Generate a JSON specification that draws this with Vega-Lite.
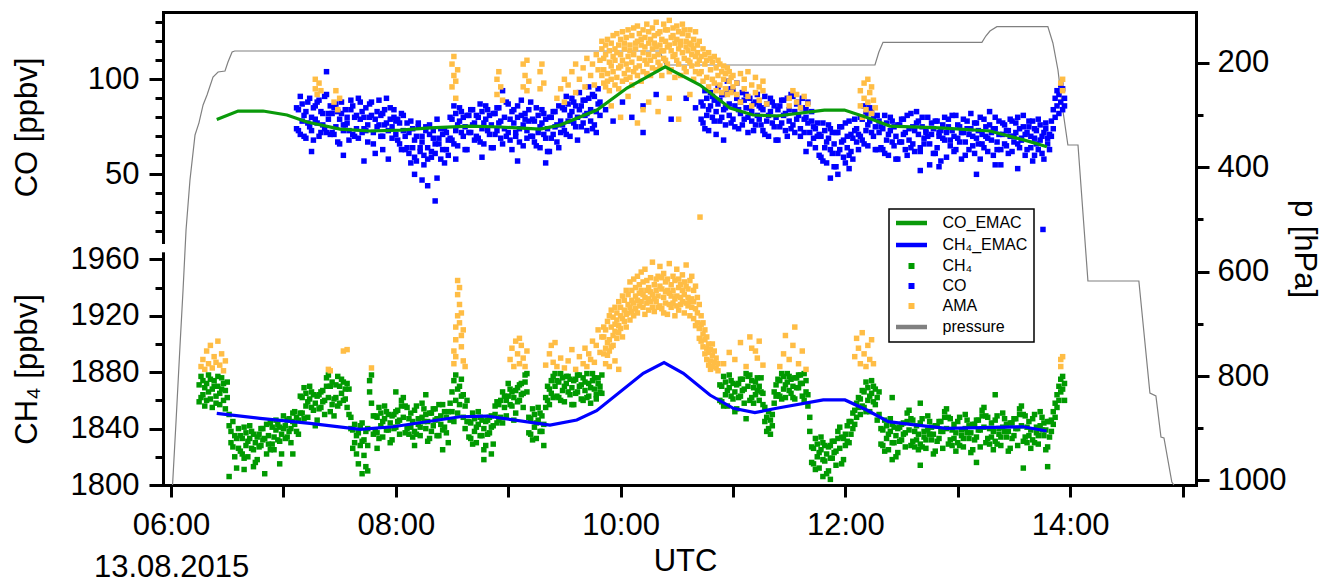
{
"$schema": "https://vega.github.io/schema/vega-lite/v6.json",
"width": 1033, "height": 473,
"autosize": {"type": "none"},
"padding": {"left": 163, "top": 12, "right": 134, "bottom": 98},
"background": "white",
"config": {
  "view": {"stroke": null},
  "font": "Liberation Sans",
  "axis": {"labelFont": "Liberation Sans", "titleFont": "Liberation Sans", "labelFontSize": 31, "titleFontSize": 31, "titleFontWeight": "normal", "labelColor": "black", "titleColor": "black", "domainColor": "black", "tickColor": "black", "domainWidth": 3, "tickWidth": 3, "grid": false, "labelOverlap": false, "labelFlush": false, "domainCap": "square"}
},
"datasets": {
"pressure": [{"m":360.8,"p":1008.8},{"m":362.7,"p":884.3},{"m":364.8,"p":740.6},{"m":366.4,"p":635.2},{"m":368.0,"p":520.3},{"m":370.1,"p":424.5},{"m":372.8,"p":338.3},{"m":374.9,"p":315},{"m":377.1,"p":280.8},{"m":379.2,"p":261.7},{"m":382.4,"p":227.2},{"m":385.1,"p":217.6},{"m":388.8,"p":215.7},{"m":390.4,"p":198.5},{"m":392.6,"p":179.3},{"m":394,"p":177.4},{"m":621.0,"p":177.4},{"m":623.7,"p":204.2},{"m":735.8,"p":204.2},{"m":737.9,"p":179.3},{"m":740.1,"p":160.7},{"m":792.9,"p":160.7},{"m":795.0,"p":148.7},{"m":797.2,"p":139.1},{"m":800.9,"p":130.8},{"m":828.1,"p":130.8},{"m":830.8,"p":162.1},{"m":833.5,"p":213.8},{"m":836.1,"p":290.4},{"m":838.8,"p":357.5},{"m":844.2,"p":357.5},{"m":849.5,"p":618.0},{"m":876.7,"p":618.0},{"m":882.6,"p":832.6},{"m":885.8,"p":838.3},{"m":888.5,"p":916.9},{"m":890.1,"p":918.8},{"m":894.3,"p":1003.1},{"m":895.4,"p":1008.8}],
"coemac": [{"m":384.4,"v":78.9},{"m":395.8,"v":83.3},{"m":409.1,"v":83.3},{"m":421.9,"v":81.2},{"m":432.6,"v":77.5},{"m":450.2,"v":73.8},{"m":466.2,"v":72.8},{"m":482.2,"v":73.3},{"m":498.3,"v":74.4},{"m":519.6,"v":75.4},{"m":535.6,"v":74.9},{"m":557.0,"v":73.8},{"m":567.7,"v":75.9},{"m":587.4,"v":83.8},{"m":603.4,"v":95.4},{"m":623.8,"v":106.6},{"m":642.4,"v":97.0},{"m":658.4,"v":84.9},{"m":670.7,"v":81.2},{"m":683.5,"v":80.7},{"m":708.8,"v":83.8},{"m":719.5,"v":83.8},{"m":732.3,"v":79.6},{"m":743.8,"v":75.4},{"m":770.5,"v":74.4},{"m":797.2,"v":72.8},{"m":818.5,"v":67.2},{"m":827.6,"v":64.5}],
"ch4emac": [{"m":384.4,"v":1850.8},{"m":407.5,"v":1847.3},{"m":434.2,"v":1843.7},{"m":460.9,"v":1839.5},{"m":478.5,"v":1841.3},{"m":514.3,"v":1848.4},{"m":528.5,"v":1848.9},{"m":562.3,"v":1842.5},{"m":576.6,"v":1846.1},{"m":587.2,"v":1852.7},{"m":612.1,"v":1879.2},{"m":623.2,"v":1886.8},{"m":633.5,"v":1879.2},{"m":647.7,"v":1863.8},{"m":660.2,"v":1854.4},{"m":671.7,"v":1851.3},{"m":683.3,"v":1854.4},{"m":708.2,"v":1860.3},{"m":719.8,"v":1860.3},{"m":731.4,"v":1853.2},{"m":742.9,"v":1844.9},{"m":758.1,"v":1842.5},{"m":774.1,"v":1840.2},{"m":798.9,"v":1840.9},{"m":815.0,"v":1841.3},{"m":827.5,"v":1838.3}],
"co": [
{"m":427,"v":85},{"m":427,"v":74},{"m":428,"v":73},{"m":428,"v":84},{"m":429,"v":91},{"m":429,"v":71},{"m":430,"v":78},{"m":430,"v":87},{"m":431,"v":70},{"m":431,"v":81},{"m":432,"v":83},{"m":432,"v":69},{"m":433,"v":88},{"m":433,"v":77},{"m":434,"v":75},{"m":434,"v":90},{"m":435,"v":80},{"m":435,"v":73},{"m":435,"v":62},{"m":436,"v":68},{"m":436,"v":85},{"m":437,"v":86},{"m":437,"v":79},{"m":438,"v":77},{"m":438,"v":88},{"m":439,"v":89},{"m":439,"v":70},{"m":440,"v":72},{"m":440,"v":83},{"m":441,"v":82},{"m":441,"v":76},{"m":442,"v":74},{"m":442,"v":91},{"m":443,"v":92},{"m":443,"v":72},{"m":443,"v":104},{"m":444,"v":79},{"m":444,"v":82},{"m":445,"v":71},{"m":445,"v":86},
{"m":446,"v":82},{"m":446,"v":72},{"m":447,"v":85},{"m":447,"v":71},{"m":448,"v":75},{"m":448,"v":87},{"m":449,"v":67},{"m":449,"v":83},{"m":450,"v":79},{"m":450,"v":66},{"m":451,"v":88},{"m":451,"v":82},{"m":452,"v":73},{"m":452,"v":76},{"m":452,"v":60},{"m":453,"v":76},{"m":453,"v":84},{"m":454,"v":80},{"m":454,"v":77},{"m":455,"v":68},{"m":455,"v":73},{"m":456,"v":84},{"m":456,"v":89},{"m":457,"v":86},{"m":457,"v":71},{"m":458,"v":70},{"m":458,"v":80},{"m":459,"v":81},{"m":459,"v":74},{"m":460,"v":90},{"m":460,"v":69},{"m":461,"v":79},{"m":461,"v":88},{"m":462,"v":72},{"m":462,"v":83},{"m":463,"v":74},{"m":463,"v":80},{"m":463,"v":57},{"m":464,"v":85},{"m":464,"v":73},{"m":465,"v":67},{"m":465,"v":76},{"m":466,"v":80},{"m":466,"v":87},{"m":467,"v":88},{"m":467,"v":81},{"m":468,"v":66},{"m":468,"v":72},{"m":469,"v":79},{"m":469,"v":61},{"m":470,"v":83},{"m":470,"v":75},{"m":471,"v":76},{"m":471,"v":89},{"m":472,"v":81},{"m":472,"v":70},{"m":473,"v":70},{"m":473,"v":82},{"m":473,"v":63},{"m":474,"v":84},{"m":474,"v":76},{"m":475,"v":77},{"m":475,"v":90},{"m":476,"v":73},{"m":476,"v":58},{"m":477,"v":85},{"m":477,"v":79},{"m":478,"v":75},{"m":478,"v":69},{"m":479,"v":80},{"m":479,"v":84},{"m":480,"v":71},{"m":480,"v":78},
{"m":481,"v":79},{"m":481,"v":68},{"m":482,"v":66},{"m":482,"v":77},{"m":483,"v":82},{"m":483,"v":63},{"m":484,"v":73},{"m":484,"v":81},{"m":485,"v":63},{"m":485,"v":70},{"m":486,"v":77},{"m":486,"v":64},
{"m":487,"v":72},{"m":487,"v":61},{"m":488,"v":78},{"m":488,"v":56},{"m":489,"v":64},{"m":489,"v":74},{"m":490,"v":59},{"m":490,"v":68},{"m":490,"v":50},{"m":491,"v":70},{"m":491,"v":57},{"m":492,"v":75},{"m":492,"v":77},{"m":493,"v":62},{"m":493,"v":64},{"m":494,"v":67},{"m":494,"v":70},{"m":494,"v":47},{"m":495,"v":55},{"m":495,"v":60},{"m":496,"v":73},{"m":496,"v":75},{"m":497,"v":64},{"m":497,"v":58},{"m":497,"v":44},{"m":498,"v":76},{"m":498,"v":71},{"m":499,"v":59},{"m":499,"v":62},{"m":500,"v":69},{"m":500,"v":73},{"m":501,"v":61},{"m":501,"v":66},{"m":501,"v":36},{"m":502,"v":79},{"m":502,"v":48},{"m":503,"v":66},{"m":503,"v":69},{"m":504,"v":58},{"m":504,"v":74},{"m":505,"v":71},{"m":505,"v":63},{"m":506,"v":74},{"m":506,"v":56},{"m":507,"v":63},{"m":507,"v":72},{"m":508,"v":68},{"m":508,"v":60},
{"m":509,"v":80},{"m":509,"v":69},{"m":510,"v":68},{"m":510,"v":79},{"m":511,"v":86},{"m":511,"v":66},{"m":512,"v":73},{"m":512,"v":82},{"m":512,"v":58},{"m":513,"v":65},{"m":513,"v":76},{"m":514,"v":78},{"m":514,"v":85},{"m":515,"v":83},{"m":515,"v":72},{"m":516,"v":70},{"m":516,"v":80},{"m":517,"v":75},{"m":517,"v":63},{"m":518,"v":63},{"m":518,"v":81},{"m":519,"v":81},{"m":519,"v":72},{"m":520,"v":72},{"m":520,"v":84},{"m":521,"v":84},{"m":521,"v":76},{"m":522,"v":77},{"m":522,"v":68},
{"m":523,"v":81},{"m":523,"v":70},{"m":524,"v":69},{"m":524,"v":80},{"m":525,"v":87},{"m":525,"v":67},{"m":526,"v":74},{"m":526,"v":83},{"m":526,"v":59},{"m":527,"v":66},{"m":527,"v":77},{"m":528,"v":79},{"m":528,"v":86},{"m":529,"v":84},{"m":529,"v":73},{"m":530,"v":71},{"m":530,"v":81},{"m":531,"v":76},{"m":531,"v":64},{"m":532,"v":64},{"m":532,"v":82},{"m":533,"v":82},{"m":533,"v":71},{"m":534,"v":73},{"m":534,"v":85},{"m":535,"v":85},{"m":535,"v":77},{"m":536,"v":78},{"m":536,"v":69},{"m":537,"v":66},{"m":537,"v":94},{"m":538,"v":80},{"m":538,"v":74},{"m":539,"v":88},{"m":539,"v":70},{"m":540,"v":72},{"m":540,"v":87},{"m":541,"v":68},{"m":541,"v":79},{"m":542,"v":83},{"m":542,"v":63},{"m":543,"v":77},{"m":543,"v":84},{"m":544,"v":70},{"m":544,"v":72},{"m":545,"v":86},{"m":545,"v":80},{"m":545,"v":57},{"m":546,"v":74},{"m":546,"v":67},{"m":547,"v":81},{"m":547,"v":89},{"m":548,"v":65},{"m":548,"v":76},{"m":549,"v":79},{"m":549,"v":82},{"m":550,"v":73},{"m":550,"v":69},{"m":551,"v":84},{"m":551,"v":78},{"m":552,"v":70},{"m":552,"v":88},
{"m":553,"v":79},{"m":553,"v":70},{"m":554,"v":67},{"m":554,"v":78},{"m":555,"v":85},{"m":555,"v":65},{"m":556,"v":72},{"m":556,"v":81},{"m":557,"v":64},{"m":557,"v":75},{"m":558,"v":77},{"m":558,"v":84},{"m":559,"v":82},{"m":559,"v":71},{"m":560,"v":69},{"m":560,"v":79},{"m":560,"v":56},{"m":561,"v":74},{"m":561,"v":62},{"m":562,"v":62},{"m":562,"v":80},{"m":563,"v":80},{"m":563,"v":69},{"m":564,"v":71},{"m":564,"v":83},{"m":565,"v":83},{"m":565,"v":75},{"m":566,"v":76},{"m":566,"v":67},{"m":567,"v":64},{"m":567,"v":86},{"m":568,"v":78},{"m":568,"v":72},
{"m":569,"v":85},{"m":569,"v":76},{"m":570,"v":73},{"m":570,"v":84},{"m":571,"v":91},{"m":571,"v":71},{"m":572,"v":78},{"m":572,"v":87},{"m":573,"v":70},{"m":573,"v":81},{"m":574,"v":83},{"m":574,"v":90},{"m":575,"v":88},{"m":575,"v":77},{"m":576,"v":75},{"m":576,"v":86},{"m":577,"v":80},{"m":577,"v":68},{"m":578,"v":93},{"m":578,"v":84},{"m":579,"v":86},{"m":579,"v":75},{"m":580,"v":77},{"m":580,"v":89},{"m":581,"v":89},{"m":581,"v":81},{"m":582,"v":82},{"m":582,"v":73},{"m":583,"v":96},{"m":583,"v":90},{"m":584,"v":84},{"m":584,"v":78},{"m":585,"v":92},{"m":585,"v":74},{"m":586,"v":76},{"m":586,"v":91},{"m":587,"v":72},{"m":587,"v":83},{"m":588,"v":87},{"m":588,"v":95},{"m":589,"v":81},{"m":589,"v":88},
{"m":592,"v":84},{"m":596,"v":78},{"m":601,"v":88},{"m":606,"v":80},{"m":612,"v":86},{"m":612,"v":72},{"m":619,"v":92},{"m":627,"v":79},{"m":635,"v":90},{"m":640,"v":85},
{"m":643,"v":88},{"m":643,"v":79},{"m":644,"v":77},{"m":644,"v":86},{"m":645,"v":94},{"m":645,"v":74},{"m":646,"v":81},{"m":646,"v":90},{"m":647,"v":73},{"m":647,"v":84},{"m":648,"v":86},{"m":648,"v":93},{"m":649,"v":91},{"m":649,"v":80},{"m":650,"v":78},{"m":650,"v":89},{"m":651,"v":83},{"m":651,"v":71},{"m":652,"v":96},{"m":652,"v":87},{"m":653,"v":89},{"m":653,"v":78},{"m":654,"v":80},{"m":654,"v":92},{"m":655,"v":92},{"m":655,"v":84},{"m":655,"v":68},{"m":656,"v":85},{"m":656,"v":76},{"m":657,"v":99},{"m":657,"v":93},{"m":658,"v":87},{"m":658,"v":81},{"m":659,"v":95},{"m":659,"v":77},{"m":660,"v":79},{"m":660,"v":94},{"m":661,"v":75},{"m":661,"v":86},{"m":662,"v":90},{"m":662,"v":98},{"m":663,"v":84},{"m":663,"v":74},{"m":664,"v":82},{"m":664,"v":88},{"m":665,"v":76},{"m":665,"v":93},{"m":666,"v":89},{"m":666,"v":79},{"m":667,"v":92},{"m":667,"v":85},{"m":668,"v":80},{"m":668,"v":72},{"m":669,"v":85},{"m":669,"v":90},{"m":670,"v":78},{"m":670,"v":83},{"m":671,"v":73},{"m":671,"v":87},{"m":672,"v":88},{"m":672,"v":76},{"m":673,"v":81},{"m":673,"v":92},{"m":674,"v":86},{"m":674,"v":79},
{"m":675,"v":85},{"m":675,"v":76},{"m":676,"v":73},{"m":676,"v":84},{"m":677,"v":91},{"m":677,"v":71},{"m":678,"v":78},{"m":678,"v":87},{"m":679,"v":70},{"m":679,"v":81},{"m":680,"v":83},{"m":680,"v":90},{"m":681,"v":88},{"m":681,"v":77},{"m":682,"v":75},{"m":682,"v":86},{"m":683,"v":80},{"m":683,"v":68},{"m":684,"v":68},{"m":684,"v":84},{"m":685,"v":86},{"m":685,"v":75},{"m":686,"v":77},{"m":686,"v":89},{"m":687,"v":89},{"m":687,"v":81},{"m":688,"v":82},{"m":688,"v":73},{"m":689,"v":70},{"m":689,"v":90},{"m":690,"v":84},{"m":690,"v":78},{"m":691,"v":92},{"m":691,"v":74},{"m":692,"v":76},{"m":692,"v":91},{"m":693,"v":72},{"m":693,"v":83},{"m":694,"v":87},{"m":694,"v":79},{"m":695,"v":81},{"m":695,"v":88},{"m":696,"v":74},{"m":696,"v":70},{"m":697,"v":90},{"m":697,"v":85},{"m":698,"v":79},{"m":698,"v":72},{"m":699,"v":84},{"m":699,"v":80},{"m":699,"v":62},{"m":700,"v":77},{"m":700,"v":88},{"m":701,"v":72},{"m":701,"v":66},{"m":702,"v":78},{"m":702,"v":83},{"m":703,"v":69},{"m":703,"v":75},{"m":704,"v":74},{"m":704,"v":64},{"m":705,"v":70},{"m":705,"v":77},
{"m":706,"v":71},{"m":706,"v":60},{"m":707,"v":59},{"m":707,"v":70},{"m":708,"v":77},{"m":708,"v":57},{"m":709,"v":64},{"m":709,"v":73},{"m":710,"v":56},{"m":710,"v":67},{"m":711,"v":69},{"m":711,"v":76},{"m":712,"v":74},{"m":712,"v":63},{"m":712,"v":48},{"m":713,"v":61},{"m":713,"v":72},{"m":714,"v":66},{"m":714,"v":54},{"m":715,"v":54},{"m":715,"v":72},{"m":716,"v":72},{"m":716,"v":61},{"m":716,"v":50},{"m":717,"v":63},{"m":717,"v":75},{"m":718,"v":75},{"m":718,"v":67},{"m":719,"v":68},{"m":719,"v":59},{"m":720,"v":56},{"m":720,"v":77},{"m":721,"v":70},{"m":721,"v":64},{"m":722,"v":78},{"m":722,"v":60},{"m":722,"v":53},{"m":723,"v":62},{"m":723,"v":71},{"m":724,"v":58},{"m":724,"v":69},{"m":725,"v":73},{"m":725,"v":79},{"m":726,"v":67},{"m":726,"v":74},{"m":727,"v":71},{"m":727,"v":63},
{"m":728,"v":80},{"m":728,"v":70},{"m":729,"v":68},{"m":729,"v":79},{"m":730,"v":86},{"m":730,"v":66},{"m":731,"v":73},{"m":731,"v":82},{"m":732,"v":65},{"m":732,"v":76},{"m":733,"v":78},{"m":733,"v":85},{"m":734,"v":83},{"m":734,"v":72},{"m":735,"v":70},{"m":735,"v":80},{"m":736,"v":75},{"m":736,"v":63},{"m":737,"v":63},{"m":737,"v":81},{"m":738,"v":72},{"m":738,"v":78},
{"m":739,"v":75},{"m":739,"v":64},{"m":740,"v":63},{"m":740,"v":74},{"m":741,"v":81},{"m":741,"v":61},{"m":742,"v":68},{"m":742,"v":77},{"m":743,"v":60},{"m":743,"v":71},{"m":744,"v":73},{"m":744,"v":80},{"m":745,"v":78},{"m":745,"v":67},{"m":746,"v":65},{"m":746,"v":75},{"m":747,"v":70},{"m":747,"v":58},{"m":748,"v":58},{"m":748,"v":76},{"m":749,"v":76},{"m":749,"v":67},{"m":750,"v":67},{"m":750,"v":79},{"m":751,"v":79},{"m":751,"v":71},{"m":752,"v":72},{"m":752,"v":63},{"m":753,"v":60},{"m":753,"v":81},{"m":754,"v":74},{"m":754,"v":68},{"m":755,"v":82},{"m":755,"v":64},{"m":756,"v":66},{"m":756,"v":75},{"m":757,"v":62},{"m":757,"v":73},{"m":758,"v":77},{"m":758,"v":83},{"m":759,"v":71},{"m":759,"v":78},{"m":760,"v":64},{"m":760,"v":62},{"m":760,"v":52},{"m":761,"v":75},{"m":761,"v":80},{"m":762,"v":69},{"m":762,"v":66},{"m":763,"v":73},{"m":763,"v":72},{"m":764,"v":80},{"m":764,"v":70},{"m":765,"v":66},{"m":765,"v":55},{"m":766,"v":71},{"m":766,"v":77},{"m":767,"v":74},{"m":767,"v":61},{"m":768,"v":61},{"m":768,"v":78},{"m":769,"v":78},{"m":769,"v":64},{"m":770,"v":70},{"m":770,"v":72},{"m":770,"v":54},{"m":771,"v":57},{"m":771,"v":73},{"m":772,"v":76},{"m":772,"v":69},{"m":773,"v":68},{"m":773,"v":80},{"m":774,"v":72},{"m":774,"v":59},{"m":775,"v":79},{"m":775,"v":75},{"m":776,"v":65},{"m":776,"v":68},{"m":777,"v":73},{"m":777,"v":81},{"m":778,"v":62},{"m":778,"v":70},{"m":779,"v":81},{"m":779,"v":63},{"m":780,"v":69},{"m":780,"v":76},{"m":781,"v":75},{"m":781,"v":67},{"m":782,"v":58},{"m":782,"v":72},{"m":783,"v":72},{"m":783,"v":79},{"m":784,"v":67},{"m":784,"v":60},{"m":785,"v":78},{"m":785,"v":74},{"m":786,"v":63},{"m":786,"v":71},{"m":787,"v":74},{"m":787,"v":82},{"m":788,"v":70},{"m":788,"v":65},{"m":789,"v":61},{"m":789,"v":77},{"m":790,"v":77},{"m":790,"v":69},{"m":790,"v":50},{"m":791,"v":66},{"m":791,"v":73},{"m":792,"v":80},{"m":792,"v":58},{"m":793,"v":71},{"m":793,"v":66},{"m":794,"v":64},{"m":794,"v":79},{"m":795,"v":75},{"m":795,"v":70},{"m":796,"v":69},{"m":796,"v":62},{"m":797,"v":83},{"m":797,"v":76},{"m":798,"v":72},{"m":798,"v":68},{"m":799,"v":60},{"m":799,"v":74},{"m":800,"v":74},{"m":800,"v":80},{"m":800,"v":55},{"m":801,"v":67},{"m":801,"v":63},{"m":802,"v":78},{"m":802,"v":71},{"m":803,"v":63},{"m":803,"v":55},{"m":804,"v":71},{"m":804,"v":77},{"m":805,"v":76},{"m":805,"v":66},{"m":806,"v":65},{"m":806,"v":73},{"m":807,"v":73},{"m":807,"v":61},{"m":808,"v":79},{"m":808,"v":70},{"m":809,"v":62},{"m":809,"v":78},{"m":810,"v":70},{"m":810,"v":67},{"m":811,"v":77},{"m":811,"v":72},{"m":812,"v":66},{"m":812,"v":80},{"m":812,"v":53},{"m":813,"v":74},{"m":813,"v":64},{"m":814,"v":68},{"m":814,"v":69},{"m":815,"v":81},{"m":815,"v":75},{"m":816,"v":60},{"m":816,"v":71},{"m":817,"v":72},{"m":817,"v":63},{"m":818,"v":75},{"m":818,"v":78},{"m":819,"v":64},{"m":819,"v":70},{"m":820,"v":78},{"m":820,"v":57},{"m":821,"v":69},{"m":821,"v":74},{"m":821,"v":60},{"m":822,"v":73},{"m":822,"v":66},{"m":823,"v":63},{"m":823,"v":79},{"m":824,"v":76},{"m":824,"v":68},{"m":825,"v":70},{"m":825,"v":61},{"m":825.5,"v":21},{"m":826,"v":58},{"m":826,"v":72},{"m":827,"v":74},{"m":827,"v":77},{"m":828,"v":66},{"m":828,"v":69},{"m":829,"v":71},{"m":829,"v":63},
{"m":830,"v":78},{"m":830,"v":70},{"m":831,"v":84},{"m":831,"v":74},{"m":832,"v":90},{"m":832,"v":80},{"m":833,"v":86},{"m":833,"v":94},{"m":834,"v":92},{"m":834,"v":82},{"m":835,"v":88},{"m":835,"v":97},{"m":836,"v":95},{"m":836,"v":84},{"m":837,"v":90},{"m":837,"v":86}
],
"coama": [
{"m":437,"v":95},{"m":437,"v":100},{"m":438,"v":92},{"m":439,"v":98},{"m":440,"v":94},{"m":447,"v":88},{"m":448,"v":94},{"m":449,"v":84},{"m":450,"v":90},
{"m":510,"v":96},{"m":510,"v":108},{"m":511,"v":112},{"m":511,"v":102},{"m":512,"v":99},{"m":512,"v":90},{"m":513,"v":105},
{"m":534,"v":92},{"m":534,"v":100},{"m":535,"v":104},{"m":536,"v":96},{"m":537,"v":89},
{"m":548,"v":96},{"m":548,"v":108},{"m":549,"v":102},{"m":550,"v":110},{"m":550,"v":94},{"m":551,"v":99},
{"m":557,"v":95},{"m":557,"v":104},{"m":558,"v":108},{"m":559,"v":98},
{"m":566,"v":90},{"m":568,"v":95},{"m":570,"v":88},{"m":570,"v":100},{"m":572,"v":97},{"m":574,"v":104},{"m":576,"v":93},{"m":576,"v":108},{"m":578,"v":100},{"m":580,"v":106},{"m":581,"v":96},{"m":582,"v":111},{"m":584,"v":102},{"m":585,"v":108},{"m":586,"v":97},{"m":587,"v":113},{"m":588,"v":105},{"m":589,"v":110},
{"m":590,"v":116},{"m":590,"v":102},{"m":590,"v":120},{"m":591,"v":98},{"m":591,"v":111},{"m":591,"v":105},{"m":592,"v":118},{"m":592,"v":96},{"m":592,"v":113},{"m":593,"v":103},{"m":593,"v":121},{"m":593,"v":99},{"m":594,"v":109},{"m":594,"v":115},{"m":594,"v":94},{"m":595,"v":100},{"m":595,"v":119},{"m":595,"v":107},{"m":595,"v":86},{"m":596,"v":123},{"m":596,"v":104},{"m":596,"v":112},{"m":597,"v":97},{"m":597,"v":116},{"m":597,"v":110},{"m":598,"v":114},{"m":598,"v":101},{"m":598,"v":124},{"m":599,"v":106},{"m":599,"v":95},{"m":599,"v":118},{"m":600,"v":121},{"m":600,"v":107},{"m":600,"v":113},{"m":600,"v":80},{"m":601,"v":99},{"m":601,"v":125},{"m":601,"v":110},{"m":602,"v":116},{"m":602,"v":103},{"m":602,"v":119},{"m":603,"v":108},{"m":603,"v":122},{"m":603,"v":100},{"m":604,"v":126},{"m":604,"v":112},{"m":604,"v":105},{"m":604,"v":91},{"m":605,"v":101},{"m":605,"v":118},{"m":605,"v":115},{"m":606,"v":123},{"m":606,"v":109},{"m":606,"v":97},{"m":607,"v":113},{"m":607,"v":127},{"m":607,"v":104},{"m":608,"v":106},{"m":608,"v":119},{"m":608,"v":116},{"m":609,"v":120},{"m":609,"v":102},{"m":609,"v":128},{"m":609,"v":77},{"m":610,"v":111},{"m":610,"v":124},{"m":610,"v":107},{"m":611,"v":118},{"m":611,"v":99},{"m":611,"v":121},{"m":612,"v":104},{"m":612,"v":126},{"m":612,"v":114},{"m":612,"v":84},{"m":613,"v":122},{"m":613,"v":110},{"m":613,"v":117},{"m":614,"v":108},{"m":614,"v":129},{"m":614,"v":103},{"m":615,"v":119},{"m":615,"v":113},{"m":615,"v":125},{"m":615,"v":88},{"m":616,"v":102},{"m":616,"v":121},{"m":616,"v":110},{"m":617,"v":127},{"m":617,"v":116},{"m":617,"v":106},{"m":618,"v":112},{"m":618,"v":123},{"m":618,"v":119},{"m":619,"v":117},{"m":619,"v":105},{"m":619,"v":130},{"m":620,"v":124},{"m":620,"v":113},{"m":620,"v":109},{"m":620,"v":83},{"m":621,"v":107},{"m":621,"v":125},{"m":621,"v":118},{"m":622,"v":121},{"m":622,"v":102},{"m":622,"v":115},{"m":623,"v":115},{"m":623,"v":129},{"m":623,"v":111},{"m":624,"v":110},{"m":624,"v":120},{"m":624,"v":126},{"m":625,"v":126},{"m":625,"v":108},{"m":625,"v":117},{"m":626,"v":118},{"m":626,"v":131},{"m":626,"v":104},{"m":626,"v":90},{"m":627,"v":105},{"m":627,"v":122},{"m":627,"v":115},{"m":628,"v":123},{"m":628,"v":112},{"m":628,"v":127},{"m":629,"v":113},{"m":629,"v":119},{"m":629,"v":101},{"m":630,"v":128},{"m":630,"v":110},{"m":630,"v":121},{"m":631,"v":116},{"m":631,"v":125},{"m":631,"v":108},{"m":631,"v":79},{"m":632,"v":102},{"m":632,"v":120},{"m":632,"v":118},{"m":633,"v":124},{"m":633,"v":114},{"m":633,"v":129},{"m":634,"v":111},{"m":634,"v":126},{"m":634,"v":106},{"m":635,"v":120},{"m":635,"v":104},{"m":635,"v":117},{"m":636,"v":115},{"m":636,"v":123},{"m":636,"v":110},{"m":637,"v":126},{"m":637,"v":109},{"m":637,"v":119},{"m":637,"v":92},{"m":638,"v":107},{"m":638,"v":118},{"m":638,"v":113},{"m":639,"v":121},{"m":639,"v":100},{"m":639,"v":116},{"m":640,"v":112},{"m":640,"v":125},{"m":640,"v":104},{"m":641,"v":118},{"m":641,"v":108},{"m":641,"v":114},{"m":642,"v":103},{"m":642,"v":120},{"m":642,"v":110},{"m":642.4,"v":27.5},
{"m":643,"v":112},{"m":643,"v":104},{"m":644,"v":116},{"m":644,"v":99},{"m":645,"v":108},{"m":645,"v":113},{"m":646,"v":101},{"m":646,"v":110},{"m":647,"v":114},{"m":647,"v":96},{"m":648,"v":105},{"m":648,"v":111},{"m":649,"v":109},{"m":649,"v":100},{"m":650,"v":98},{"m":650,"v":112},{"m":651,"v":106},{"m":651,"v":94},{"m":652,"v":110},{"m":652,"v":102},{"m":653,"v":97},{"m":653,"v":108},{"m":654,"v":104},{"m":654,"v":93},{"m":655,"v":100},{"m":655,"v":107},{"m":656,"v":95},{"m":656,"v":103},{"m":657,"v":106},{"m":657,"v":92},{"m":658,"v":99},{"m":658,"v":104},{"m":659,"v":93},{"m":659,"v":101},{"m":660,"v":102},{"m":660,"v":96},
{"m":662,"v":98},{"m":662,"v":92},{"m":664,"v":103},{"m":664,"v":88},{"m":666,"v":95},{"m":666,"v":100},{"m":668,"v":91},{"m":668,"v":104},{"m":670,"v":97},{"m":670,"v":86},{"m":672,"v":101},{"m":672,"v":93},{"m":674,"v":89},{"m":674,"v":96},{"m":676,"v":94},{"m":676,"v":99},{"m":678,"v":87},
{"m":690,"v":90},{"m":690,"v":86},{"m":692,"v":94},{"m":694,"v":88},{"m":694,"v":92},{"m":696,"v":85},{"m":698,"v":91},{"m":700,"v":87},
{"m":728,"v":86},{"m":728,"v":94},{"m":729,"v":80},{"m":730,"v":98},{"m":730,"v":90},{"m":731,"v":84},{"m":732,"v":100},{"m":732,"v":88},{"m":733,"v":93},{"m":734,"v":82},{"m":734,"v":96},{"m":735,"v":89},{"m":736,"v":85},
{"m":835,"v":98},{"m":836,"v":100},{"m":836,"v":94}
],
"ch4": [
{"m":375,"v":1871},{"m":375,"v":1859},{"m":376,"v":1877},{"m":376,"v":1862},{"m":377,"v":1864},{"m":377,"v":1874},{"m":378,"v":1856},{"m":378,"v":1869},{"m":379,"v":1872},{"m":379,"v":1860},{"m":380,"v":1878},{"m":380,"v":1866},{"m":381,"v":1861},{"m":381,"v":1875},{"m":382,"v":1868},{"m":382,"v":1855},{"m":383,"v":1874},{"m":383,"v":1870},{"m":384,"v":1858},{"m":384,"v":1863},{"m":385,"v":1870},{"m":385,"v":1877},{"m":386,"v":1865},{"m":386,"v":1857},{"m":387,"v":1876},{"m":387,"v":1868},{"m":388,"v":1860},{"m":388,"v":1872},{"m":389,"v":1867},{"m":389,"v":1854},{"m":390,"v":1873},{"m":390,"v":1862},{"m":391,"v":1850},{"m":391,"v":1842},{"m":391,"v":1806},{"m":392,"v":1838},{"m":392,"v":1830},{"m":393,"v":1827},{"m":393,"v":1845},{"m":394,"v":1820},{"m":394,"v":1835},{"m":395,"v":1833},{"m":395,"v":1812},{"m":396,"v":1826},{"m":396,"v":1840},
{"m":397,"v":1835},{"m":397,"v":1824},{"m":398,"v":1822},{"m":398,"v":1833},{"m":399,"v":1841},{"m":399,"v":1819},{"m":399,"v":1811},{"m":400,"v":1828},{"m":400,"v":1837},{"m":401,"v":1820},{"m":401,"v":1831},{"m":402,"v":1833},{"m":402,"v":1842},{"m":403,"v":1838},{"m":403,"v":1826},{"m":404,"v":1825},{"m":404,"v":1836},{"m":404,"v":1813},{"m":405,"v":1830},{"m":405,"v":1816},{"m":406,"v":1818},{"m":406,"v":1834},{"m":407,"v":1836},{"m":407,"v":1827},{"m":408,"v":1828},{"m":408,"v":1840},{"m":409,"v":1840},{"m":409,"v":1832},{"m":410,"v":1833},{"m":410,"v":1808},{"m":411,"v":1822},{"m":411,"v":1843},{"m":412,"v":1835},{"m":412,"v":1829},{"m":413,"v":1844},{"m":413,"v":1825},{"m":414,"v":1829},{"m":414,"v":1841},{"m":415,"v":1825},{"m":415,"v":1834},{"m":416,"v":1839},{"m":416,"v":1846},{"m":417,"v":1843},{"m":417,"v":1832},{"m":418,"v":1831},{"m":418,"v":1841},{"m":418,"v":1815},{"m":419,"v":1836},{"m":419,"v":1822},{"m":420,"v":1849},{"m":420,"v":1840},{"m":421,"v":1842},{"m":421,"v":1833},{"m":422,"v":1834},{"m":422,"v":1846},{"m":423,"v":1847},{"m":423,"v":1838},{"m":424,"v":1840},{"m":424,"v":1830},{"m":425,"v":1851},{"m":425,"v":1845},{"m":425,"v":1822},{"m":426,"v":1843},{"m":426,"v":1852},{"m":427,"v":1838},{"m":427,"v":1848},{"m":428,"v":1846},{"m":428,"v":1836},
{"m":429,"v":1863},{"m":429,"v":1851},{"m":430,"v":1851},{"m":430,"v":1862},{"m":431,"v":1869},{"m":431,"v":1847},{"m":432,"v":1856},{"m":432,"v":1865},{"m":433,"v":1848},{"m":433,"v":1859},{"m":434,"v":1861},{"m":434,"v":1870},{"m":435,"v":1866},{"m":435,"v":1855},{"m":436,"v":1853},{"m":436,"v":1864},{"m":437,"v":1858},{"m":437,"v":1842},{"m":438,"v":1846},{"m":438,"v":1863},{"m":439,"v":1864},{"m":439,"v":1854},{"m":440,"v":1855},{"m":440,"v":1866},{"m":441,"v":1867},{"m":441,"v":1859},{"m":442,"v":1860},{"m":442,"v":1850},{"m":443,"v":1876},{"m":443,"v":1870},{"m":444,"v":1862},{"m":444,"v":1878},{"m":445,"v":1870},{"m":445,"v":1852},{"m":446,"v":1857},{"m":446,"v":1873},{"m":447,"v":1849},{"m":447,"v":1861},
{"m":448,"v":1871},{"m":448,"v":1862},{"m":449,"v":1877},{"m":449,"v":1856},{"m":450,"v":1858},{"m":450,"v":1870},{"m":451,"v":1865},{"m":451,"v":1875},{"m":452,"v":1873},{"m":452,"v":1860},{"m":453,"v":1861},{"m":453,"v":1868},{"m":454,"v":1855},{"m":454,"v":1872},{"m":455,"v":1868},{"m":455,"v":1850},
{"m":456,"v":1848},{"m":456,"v":1840},{"m":457,"v":1839},{"m":457,"v":1826},{"m":458,"v":1830},{"m":458,"v":1843},{"m":459,"v":1822},{"m":459,"v":1835},{"m":460,"v":1837},{"m":460,"v":1815},{"m":461,"v":1828},{"m":461,"v":1842},{"m":462,"v":1844},{"m":462,"v":1831},{"m":462,"v":1808},{"m":463,"v":1832},{"m":463,"v":1821},{"m":464,"v":1813},{"m":464,"v":1838},{"m":465,"v":1840},{"m":465,"v":1828},{"m":465,"v":1810},{"m":466,"v":1866},{"m":466,"v":1874},{"m":467,"v":1878},{"m":467,"v":1858},{"m":468,"v":1849},{"m":468,"v":1836},
{"m":469,"v":1849},{"m":469,"v":1838},{"m":470,"v":1837},{"m":470,"v":1848},{"m":470,"v":1826},{"m":471,"v":1855},{"m":471,"v":1833},{"m":472,"v":1842},{"m":472,"v":1851},{"m":473,"v":1834},{"m":473,"v":1845},{"m":474,"v":1847},{"m":474,"v":1856},{"m":475,"v":1852},{"m":475,"v":1839},{"m":476,"v":1839},{"m":476,"v":1850},{"m":477,"v":1844},{"m":477,"v":1830},{"m":478,"v":1832},{"m":478,"v":1849},{"m":479,"v":1850},{"m":479,"v":1840},{"m":480,"v":1841},{"m":480,"v":1852},{"m":480,"v":1866},{"m":481,"v":1853},{"m":481,"v":1845},{"m":482,"v":1846},{"m":482,"v":1836},{"m":483,"v":1860},{"m":483,"v":1856},{"m":484,"v":1848},{"m":484,"v":1862},{"m":485,"v":1856},{"m":485,"v":1837},{"m":486,"v":1840},{"m":486,"v":1855},{"m":487,"v":1836},{"m":487,"v":1847},{"m":488,"v":1851},{"m":488,"v":1841},{"m":489,"v":1845},{"m":489,"v":1834},{"m":490,"v":1838},{"m":490,"v":1853},{"m":490,"v":1828},{"m":491,"v":1856},{"m":491,"v":1836},{"m":492,"v":1843},{"m":492,"v":1847},{"m":493,"v":1835},{"m":493,"v":1841},{"m":494,"v":1848},{"m":494,"v":1858},{"m":495,"v":1854},{"m":495,"v":1845},{"m":496,"v":1840},{"m":496,"v":1850},{"m":496,"v":1864},{"m":497,"v":1845},{"m":497,"v":1831},{"m":498,"v":1833},{"m":498,"v":1851},{"m":499,"v":1851},{"m":499,"v":1838},{"m":500,"v":1842},{"m":500,"v":1854},{"m":501,"v":1854},{"m":501,"v":1846},{"m":502,"v":1847},{"m":502,"v":1835},{"m":503,"v":1835},{"m":503,"v":1857},{"m":504,"v":1849},{"m":504,"v":1843},{"m":505,"v":1857},{"m":505,"v":1839},{"m":505,"v":1825},{"m":506,"v":1841},{"m":506,"v":1852},{"m":507,"v":1837},{"m":507,"v":1848},{"m":508,"v":1852},{"m":508,"v":1830},{"m":509,"v":1858},{"m":509,"v":1846},
{"m":510,"v":1866},{"m":510,"v":1852},{"m":511,"v":1874},{"m":511,"v":1845},{"m":512,"v":1860},{"m":512,"v":1878},{"m":513,"v":1851},{"m":513,"v":1868},{"m":514,"v":1870},{"m":514,"v":1857},{"m":515,"v":1863},{"m":515,"v":1875},{"m":516,"v":1848},{"m":516,"v":1864},{"m":517,"v":1856},{"m":517,"v":1840},{"m":518,"v":1845},{"m":518,"v":1860},
{"m":519,"v":1845},{"m":519,"v":1834},{"m":520,"v":1833},{"m":520,"v":1844},{"m":521,"v":1851},{"m":521,"v":1829},{"m":522,"v":1838},{"m":522,"v":1847},{"m":523,"v":1830},{"m":523,"v":1841},{"m":524,"v":1843},{"m":524,"v":1852},{"m":525,"v":1848},{"m":525,"v":1835},{"m":526,"v":1835},{"m":526,"v":1846},{"m":527,"v":1840},{"m":527,"v":1825},{"m":527,"v":1818},{"m":528,"v":1828},{"m":528,"v":1845},{"m":529,"v":1846},{"m":529,"v":1836},{"m":530,"v":1837},{"m":530,"v":1848},{"m":531,"v":1849},{"m":531,"v":1841},{"m":531,"v":1822},{"m":532,"v":1842},{"m":532,"v":1829},{"m":533,"v":1856},{"m":533,"v":1850},{"m":534,"v":1844},{"m":534,"v":1859},
{"m":535,"v":1857},{"m":535,"v":1846},{"m":536,"v":1848},{"m":536,"v":1860},{"m":537,"v":1866},{"m":537,"v":1844},{"m":538,"v":1855},{"m":538,"v":1863},{"m":539,"v":1849},{"m":539,"v":1860},{"m":540,"v":1863},{"m":540,"v":1872},{"m":541,"v":1868},{"m":541,"v":1857},{"m":542,"v":1856},{"m":542,"v":1866},{"m":543,"v":1862},{"m":543,"v":1846},{"m":544,"v":1851},{"m":544,"v":1867},{"m":545,"v":1869},{"m":545,"v":1859},{"m":546,"v":1860},{"m":546,"v":1871},{"m":547,"v":1872},{"m":547,"v":1864},{"m":548,"v":1865},{"m":548,"v":1855},{"m":549,"v":1878},{"m":549,"v":1873},{"m":550,"v":1866},{"m":550,"v":1879},
{"m":551,"v":1848},{"m":551,"v":1837},{"m":552,"v":1836},{"m":552,"v":1847},{"m":553,"v":1854},{"m":553,"v":1832},{"m":554,"v":1841},{"m":554,"v":1850},{"m":555,"v":1833},{"m":555,"v":1844},{"m":556,"v":1846},{"m":556,"v":1855},{"m":557,"v":1851},{"m":557,"v":1838},{"m":558,"v":1838},{"m":558,"v":1849},{"m":559,"v":1843},{"m":559,"v":1828},
{"m":560,"v":1855},{"m":560,"v":1862},{"m":561,"v":1860},{"m":561,"v":1870},{"m":562,"v":1868},{"m":562,"v":1857},{"m":563,"v":1874},{"m":563,"v":1865},{"m":564,"v":1862},{"m":564,"v":1877},{"m":565,"v":1870},{"m":565,"v":1879},
{"m":566,"v":1874},{"m":566,"v":1863},{"m":567,"v":1862},{"m":567,"v":1873},{"m":568,"v":1879},{"m":568,"v":1860},{"m":569,"v":1867},{"m":569,"v":1876},{"m":570,"v":1859},{"m":570,"v":1870},{"m":571,"v":1872},{"m":571,"v":1877},{"m":572,"v":1877},{"m":572,"v":1866},{"m":573,"v":1864},{"m":573,"v":1875},{"m":574,"v":1869},{"m":574,"v":1857},{"m":575,"v":1857},{"m":575,"v":1874},{"m":576,"v":1875},{"m":576,"v":1865},{"m":577,"v":1866},{"m":577,"v":1878},{"m":578,"v":1878},{"m":578,"v":1870},{"m":579,"v":1871},{"m":579,"v":1861},{"m":580,"v":1860},{"m":580,"v":1876},{"m":581,"v":1873},{"m":581,"v":1867},{"m":582,"v":1879},{"m":582,"v":1862},{"m":583,"v":1863},{"m":583,"v":1872},{"m":584,"v":1858},{"m":584,"v":1869},{"m":585,"v":1874},{"m":585,"v":1879},{"m":586,"v":1868},{"m":586,"v":1876},{"m":587,"v":1861},{"m":587,"v":1864},{"m":588,"v":1876},{"m":588,"v":1872},{"m":589,"v":1870},{"m":589,"v":1866},{"m":590,"v":1865},{"m":590,"v":1878},
{"m":653,"v":1871},{"m":653,"v":1860},{"m":654,"v":1859},{"m":654,"v":1870},{"m":655,"v":1877},{"m":655,"v":1856},{"m":656,"v":1864},{"m":656,"v":1873},{"m":657,"v":1856},{"m":657,"v":1867},{"m":658,"v":1869},{"m":658,"v":1878},{"m":659,"v":1874},{"m":659,"v":1863},{"m":660,"v":1861},{"m":660,"v":1872},{"m":661,"v":1866},{"m":661,"v":1852},{"m":662,"v":1854},{"m":662,"v":1871},{"m":663,"v":1872},{"m":663,"v":1862},{"m":664,"v":1863},{"m":664,"v":1875},{"m":665,"v":1875},{"m":665,"v":1867},{"m":666,"v":1868},{"m":666,"v":1858},{"m":667,"v":1879},{"m":667,"v":1847},{"m":668,"v":1870},{"m":668,"v":1877},{"m":669,"v":1878},{"m":669,"v":1860},{"m":670,"v":1862},{"m":670,"v":1874},{"m":671,"v":1858},{"m":671,"v":1869},{"m":672,"v":1873},{"m":672,"v":1864},{"m":673,"v":1867},{"m":673,"v":1876},{"m":674,"v":1860},{"m":674,"v":1870},{"m":675,"v":1876},{"m":675,"v":1866},{"m":676,"v":1865},{"m":676,"v":1857},
{"m":677,"v":1855},{"m":677,"v":1845},{"m":678,"v":1848},{"m":678,"v":1838},{"m":679,"v":1840},{"m":679,"v":1852},{"m":680,"v":1836},{"m":680,"v":1846},{"m":681,"v":1850},{"m":681,"v":1842},{"m":682,"v":1858},{"m":682,"v":1866},{"m":683,"v":1863},{"m":683,"v":1871},
{"m":684,"v":1875},{"m":684,"v":1864},{"m":685,"v":1863},{"m":685,"v":1874},{"m":686,"v":1879},{"m":686,"v":1861},{"m":687,"v":1868},{"m":687,"v":1877},{"m":688,"v":1862},{"m":688,"v":1871},{"m":689,"v":1873},{"m":689,"v":1879},{"m":690,"v":1877},{"m":690,"v":1867},{"m":691,"v":1865},{"m":691,"v":1875},{"m":692,"v":1870},{"m":692,"v":1862},{"m":693,"v":1861},{"m":693,"v":1876},{"m":694,"v":1876},{"m":694,"v":1869},{"m":695,"v":1869},{"m":695,"v":1878},{"m":696,"v":1878},{"m":696,"v":1872},{"m":697,"v":1872},{"m":697,"v":1863},{"m":698,"v":1860},{"m":698,"v":1879},{"m":699,"v":1874},{"m":699,"v":1866},{"m":700,"v":1856},{"m":700,"v":1864},{"m":701,"v":1848},{"m":701,"v":1838},
{"m":702,"v":1827},{"m":702,"v":1816},{"m":703,"v":1815},{"m":703,"v":1826},{"m":704,"v":1833},{"m":704,"v":1811},{"m":705,"v":1820},{"m":705,"v":1829},{"m":706,"v":1812},{"m":706,"v":1823},{"m":707,"v":1825},{"m":707,"v":1834},{"m":708,"v":1830},{"m":708,"v":1818},{"m":708,"v":1806},{"m":709,"v":1817},{"m":709,"v":1828},{"m":710,"v":1822},{"m":710,"v":1808},{"m":711,"v":1810},{"m":711,"v":1827},{"m":712,"v":1828},{"m":712,"v":1819},{"m":712,"v":1804},{"m":713,"v":1819},{"m":713,"v":1831},{"m":714,"v":1831},{"m":714,"v":1823},{"m":715,"v":1824},{"m":715,"v":1814},{"m":716,"v":1838},{"m":716,"v":1833},{"m":717,"v":1826},{"m":717,"v":1841},{"m":718,"v":1834},{"m":718,"v":1815},{"m":719,"v":1818},{"m":719,"v":1833},{"m":720,"v":1836},{"m":720,"v":1828},{"m":721,"v":1842},{"m":721,"v":1831},{"m":722,"v":1830},{"m":722,"v":1845},
{"m":723,"v":1845},{"m":723,"v":1836},{"m":724,"v":1840},{"m":724,"v":1851},{"m":725,"v":1853},{"m":725,"v":1843},{"m":726,"v":1848},{"m":726,"v":1858},{"m":727,"v":1855},{"m":727,"v":1862},{"m":728,"v":1861},{"m":728,"v":1850},
{"m":729,"v":1867},{"m":729,"v":1856},{"m":730,"v":1855},{"m":730,"v":1866},{"m":731,"v":1873},{"m":731,"v":1852},{"m":732,"v":1860},{"m":732,"v":1869},{"m":733,"v":1852},{"m":733,"v":1863},{"m":734,"v":1865},{"m":734,"v":1874},{"m":735,"v":1870},{"m":735,"v":1859},{"m":736,"v":1857},{"m":736,"v":1868},{"m":737,"v":1862},{"m":737,"v":1846},{"m":738,"v":1850},{"m":738,"v":1866},
{"m":739,"v":1840},{"m":739,"v":1829},{"m":740,"v":1828},{"m":740,"v":1839},{"m":741,"v":1846},{"m":741,"v":1824},{"m":742,"v":1833},{"m":742,"v":1842},{"m":743,"v":1825},{"m":743,"v":1836},{"m":744,"v":1838},{"m":744,"v":1847},{"m":745,"v":1843},{"m":745,"v":1830},{"m":745,"v":1818},{"m":745,"v":1862},{"m":746,"v":1830},{"m":746,"v":1841},{"m":747,"v":1835},{"m":747,"v":1820},{"m":748,"v":1823},{"m":748,"v":1840},{"m":749,"v":1841},{"m":749,"v":1831},{"m":750,"v":1832},{"m":750,"v":1843},{"m":751,"v":1844},{"m":751,"v":1836},{"m":752,"v":1837},{"m":752,"v":1827},{"m":753,"v":1851},{"m":753,"v":1845},{"m":754,"v":1839},{"m":754,"v":1853},{"m":755,"v":1847},{"m":755,"v":1828},{"m":756,"v":1831},{"m":756,"v":1846},{"m":757,"v":1827},{"m":757,"v":1838},{"m":758,"v":1842},{"m":758,"v":1832},{"m":759,"v":1836},{"m":759,"v":1825},{"m":760,"v":1829},{"m":760,"v":1844},{"m":760,"v":1814},{"m":760,"v":1858},{"m":761,"v":1847},{"m":761,"v":1827},{"m":762,"v":1834},{"m":762,"v":1838},{"m":763,"v":1826},{"m":763,"v":1832},{"m":764,"v":1839},{"m":764,"v":1849},{"m":765,"v":1845},{"m":765,"v":1836},{"m":766,"v":1832},{"m":766,"v":1841},{"m":767,"v":1836},{"m":767,"v":1822},{"m":768,"v":1824},{"m":768,"v":1842},{"m":769,"v":1842},{"m":769,"v":1831},{"m":770,"v":1833},{"m":770,"v":1845},{"m":771,"v":1845},{"m":771,"v":1838},{"m":772,"v":1838},{"m":772,"v":1826},{"m":773,"v":1852},{"m":773,"v":1848},{"m":774,"v":1840},{"m":774,"v":1854},{"m":775,"v":1848},{"m":775,"v":1829},{"m":776,"v":1832},{"m":776,"v":1847},{"m":777,"v":1828},{"m":777,"v":1839},{"m":778,"v":1843},{"m":778,"v":1833},{"m":779,"v":1837},{"m":779,"v":1824},{"m":780,"v":1830},{"m":780,"v":1845},{"m":781,"v":1848},{"m":781,"v":1828},{"m":782,"v":1835},{"m":782,"v":1839},{"m":783,"v":1827},{"m":783,"v":1833},{"m":784,"v":1840},{"m":784,"v":1850},{"m":785,"v":1846},{"m":785,"v":1837},{"m":786,"v":1833},{"m":786,"v":1842},{"m":787,"v":1837},{"m":787,"v":1823},{"m":788,"v":1825},{"m":788,"v":1843},{"m":789,"v":1843},{"m":789,"v":1832},{"m":790,"v":1834},{"m":790,"v":1846},{"m":790,"v":1816},{"m":791,"v":1846},{"m":791,"v":1839},{"m":792,"v":1839},{"m":792,"v":1827},{"m":793,"v":1853},{"m":793,"v":1849},{"m":794,"v":1841},{"m":794,"v":1855},{"m":795,"v":1849},{"m":795,"v":1830},{"m":796,"v":1833},{"m":796,"v":1848},{"m":797,"v":1829},{"m":797,"v":1840},{"m":798,"v":1844},{"m":798,"v":1834},{"m":799,"v":1838},{"m":799,"v":1825},{"m":800,"v":1831},{"m":800,"v":1846},{"m":800,"v":1864},{"m":801,"v":1849},{"m":801,"v":1829},{"m":802,"v":1836},{"m":802,"v":1840},{"m":803,"v":1828},{"m":803,"v":1834},{"m":804,"v":1841},{"m":804,"v":1851},{"m":805,"v":1847},{"m":805,"v":1838},{"m":806,"v":1834},{"m":806,"v":1843},{"m":807,"v":1838},{"m":807,"v":1824},{"m":808,"v":1826},{"m":808,"v":1844},{"m":809,"v":1844},{"m":809,"v":1833},{"m":810,"v":1835},{"m":810,"v":1847},{"m":811,"v":1847},{"m":811,"v":1840},{"m":812,"v":1840},{"m":812,"v":1828},{"m":813,"v":1854},{"m":813,"v":1850},{"m":814,"v":1842},{"m":814,"v":1856},{"m":815,"v":1850},{"m":815,"v":1831},{"m":815,"v":1812},{"m":816,"v":1834},{"m":816,"v":1849},{"m":817,"v":1830},{"m":817,"v":1841},{"m":818,"v":1845},{"m":818,"v":1835},{"m":819,"v":1839},{"m":819,"v":1826},{"m":820,"v":1832},{"m":820,"v":1847},{"m":821,"v":1850},{"m":821,"v":1830},{"m":822,"v":1837},{"m":822,"v":1841},{"m":823,"v":1829},{"m":823,"v":1835},{"m":824,"v":1842},{"m":824,"v":1852},{"m":825,"v":1848},{"m":825,"v":1839},{"m":826,"v":1835},{"m":826,"v":1844},{"m":827,"v":1839},{"m":827,"v":1825},{"m":828,"v":1827},{"m":828,"v":1845},{"m":828,"v":1813},{"m":829,"v":1845},{"m":829,"v":1834},
{"m":830,"v":1846},{"m":830,"v":1838},{"m":831,"v":1852},{"m":831,"v":1843},{"m":832,"v":1858},{"m":832,"v":1848},{"m":833,"v":1864},{"m":833,"v":1855},{"m":834,"v":1870},{"m":834,"v":1860},{"m":835,"v":1875},{"m":835,"v":1866},{"m":836,"v":1868},{"m":836,"v":1877},{"m":837,"v":1860},{"m":837,"v":1872}
],
"ch4ama": [
{"m":376,"v":1884},{"m":377,"v":1889},{"m":378,"v":1882},{"m":379,"v":1895},{"m":380,"v":1886},{"m":381,"v":1899},{"m":382,"v":1883},{"m":383,"v":1891},{"m":384,"v":1887},{"m":385,"v":1902},{"m":386,"v":1885},{"m":387,"v":1893},{"m":388,"v":1881},{"m":389,"v":1888},
{"m":444,"v":1882},{"m":445,"v":1881},{"m":452,"v":1895},{"m":454,"v":1896},{"m":467,"v":1883},
{"m":511,"v":1886},{"m":511,"v":1895},{"m":512,"v":1903},{"m":512,"v":1912},{"m":512,"v":1891},{"m":513,"v":1920},{"m":513,"v":1935},{"m":513,"v":1945},{"m":514,"v":1928},{"m":514,"v":1915},{"m":514,"v":1940},{"m":515,"v":1906},{"m":515,"v":1898},{"m":515,"v":1922},{"m":516,"v":1888},{"m":516,"v":1910},{"m":517,"v":1884},
{"m":541,"v":1889},{"m":542,"v":1897},{"m":543,"v":1884},{"m":544,"v":1902},{"m":545,"v":1893},{"m":546,"v":1886},{"m":546,"v":1904},{"m":547,"v":1899},{"m":548,"v":1890},{"m":549,"v":1884},{"m":550,"v":1895},
{"m":560,"v":1885},{"m":562,"v":1893},{"m":563,"v":1899},{"m":564,"v":1887},{"m":565,"v":1901},{"m":566,"v":1884},{"m":568,"v":1890},{"m":570,"v":1883},{"m":572,"v":1888},{"m":574,"v":1896},{"m":576,"v":1882},{"m":578,"v":1891},{"m":580,"v":1886},{"m":581,"v":1897},{"m":582,"v":1884},{"m":583,"v":1893},{"m":584,"v":1889},{"m":585,"v":1902},{"m":586,"v":1887},{"m":587,"v":1899},{"m":588,"v":1910},{"m":589,"v":1894},{"m":590,"v":1905},
{"m":591,"v":1905},{"m":591,"v":1893},{"m":591,"v":1912},{"m":592,"v":1897},{"m":592,"v":1910},{"m":592,"v":1886},{"m":593,"v":1916},{"m":593,"v":1901},{"m":593,"v":1892},{"m":594,"v":1903},{"m":594,"v":1920},{"m":594,"v":1895},{"m":594,"v":1884},{"m":595,"v":1912},{"m":595,"v":1898},{"m":595,"v":1924},{"m":596,"v":1919},{"m":596,"v":1906},{"m":596,"v":1899},{"m":597,"v":1909},{"m":597,"v":1926},{"m":597,"v":1914},{"m":597,"v":1888},{"m":598,"v":1922},{"m":598,"v":1904},{"m":598,"v":1917},{"m":599,"v":1913},{"m":599,"v":1930},{"m":599,"v":1908},{"m":599,"v":1882},{"m":600,"v":1926},{"m":600,"v":1911},{"m":600,"v":1920},{"m":601,"v":1918},{"m":601,"v":1934},{"m":601,"v":1905},{"m":602,"v":1931},{"m":602,"v":1916},{"m":602,"v":1924},{"m":603,"v":1921},{"m":603,"v":1938},{"m":603,"v":1912},{"m":604,"v":1935},{"m":604,"v":1922},{"m":604,"v":1928},{"m":605,"v":1926},{"m":605,"v":1944},{"m":605,"v":1917},{"m":606,"v":1938},{"m":606,"v":1923},{"m":606,"v":1931},{"m":607,"v":1929},{"m":607,"v":1946},{"m":607,"v":1920},{"m":608,"v":1940},{"m":608,"v":1925},{"m":608,"v":1934},{"m":609,"v":1931},{"m":609,"v":1948},{"m":609,"v":1922},{"m":610,"v":1942},{"m":610,"v":1927},{"m":610,"v":1936},{"m":611,"v":1930},{"m":611,"v":1951},{"m":611,"v":1938},{"m":612,"v":1944},{"m":612,"v":1926},{"m":612,"v":1935},{"m":613,"v":1933},{"m":613,"v":1953},{"m":613,"v":1921},{"m":614,"v":1945},{"m":614,"v":1929},{"m":614,"v":1938},{"m":615,"v":1924},{"m":615,"v":1940},{"m":615,"v":1932},{"m":616,"v":1947},{"m":616,"v":1930},{"m":616,"v":1937},{"m":617,"v":1935},{"m":617,"v":1958},{"m":617,"v":1926},{"m":618,"v":1942},{"m":618,"v":1923},{"m":618,"v":1932},{"m":619,"v":1930},{"m":619,"v":1946},{"m":619,"v":1938},{"m":620,"v":1948},{"m":620,"v":1934},{"m":620,"v":1926},{"m":621,"v":1927},{"m":621,"v":1941},{"m":621,"v":1955},{"m":622,"v":1939},{"m":622,"v":1925},{"m":622,"v":1947},{"m":623,"v":1933},{"m":623,"v":1950},{"m":623,"v":1922},{"m":624,"v":1944},{"m":624,"v":1929},{"m":624,"v":1937},{"m":625,"v":1921},{"m":625,"v":1938},{"m":625,"v":1946},{"m":626,"v":1936},{"m":626,"v":1957},{"m":626,"v":1928},{"m":627,"v":1942},{"m":627,"v":1926},{"m":627,"v":1934},{"m":628,"v":1929},{"m":628,"v":1948},{"m":628,"v":1938},{"m":629,"v":1945},{"m":629,"v":1932},{"m":629,"v":1920},{"m":630,"v":1934},{"m":630,"v":1953},{"m":630,"v":1927},{"m":631,"v":1940},{"m":631,"v":1924},{"m":631,"v":1946},{"m":632,"v":1928},{"m":632,"v":1942},{"m":632,"v":1933},{"m":633,"v":1949},{"m":633,"v":1930},{"m":633,"v":1938},{"m":634,"v":1935},{"m":634,"v":1922},{"m":634,"v":1944},{"m":635,"v":1941},{"m":635,"v":1956},{"m":635,"v":1929},{"m":636,"v":1927},{"m":636,"v":1939},{"m":636,"v":1933},{"m":637,"v":1945},{"m":637,"v":1930},{"m":637,"v":1920},{"m":638,"v":1932},{"m":638,"v":1948},{"m":638,"v":1926},{"m":639,"v":1938},{"m":639,"v":1918},{"m":639,"v":1930},{"m":640,"v":1925},{"m":640,"v":1941},{"m":640,"v":1913},{"m":641,"v":1933},{"m":641,"v":1915},{"m":641,"v":1922},{"m":642,"v":1911},{"m":642,"v":1928},{"m":642,"v":1904},{"m":643,"v":1920},{"m":643,"v":1902},{"m":643,"v":1914},{"m":644,"v":1898},{"m":644,"v":1915},{"m":644,"v":1907},{"m":645,"v":1910},{"m":645,"v":1893},{"m":645,"v":1903},{"m":646,"v":1889},{"m":646,"v":1905},{"m":646,"v":1897},{"m":647,"v":1900},{"m":647,"v":1885},{"m":647,"v":1894},{"m":648,"v":1882},{"m":648,"v":1896},{"m":648,"v":1888},{"m":649,"v":1892},{"m":649,"v":1884},{"m":649,"v":1900},{"m":650,"v":1887},{"m":650,"v":1895},{"m":651,"v":1883},{"m":651,"v":1890},{"m":652,"v":1881},{"m":652,"v":1886},
{"m":655,"v":1886},{"m":658,"v":1894},{"m":661,"v":1889},{"m":664,"v":1901},{"m":667,"v":1884},{"m":669,"v":1905},{"m":670,"v":1897},{"m":672,"v":1895},{"m":673,"v":1890},{"m":674,"v":1902},{"m":676,"v":1885},
{"m":685,"v":1884},{"m":687,"v":1893},{"m":688,"v":1906},{"m":690,"v":1889},{"m":692,"v":1899},{"m":693,"v":1912},{"m":695,"v":1886},{"m":697,"v":1895},{"m":699,"v":1882},
{"m":725,"v":1891},{"m":726,"v":1904},{"m":727,"v":1897},{"m":728,"v":1886},{"m":729,"v":1908},{"m":730,"v":1893},{"m":731,"v":1884},{"m":732,"v":1899},{"m":733,"v":1889},{"m":734,"v":1903},{"m":735,"v":1886},
{"m":835,"v":1884},{"m":835,"v":1889},{"m":836,"v":1891}
]
},
"resolve": {"scale": {"y": "independent"}, "axis": {"x": "independent", "y": "independent"}},
"layer": [
 {
  "data": {"name": "pressure"},
  "mark": {"type": "line", "strokeWidth": 1.2},
  "encoding": {
   "x": {"field": "m", "type": "quantitative", "scale": {"domain": [355.7, 907.2], "nice": false, "zero": false},
     "axis": {"orient": "bottom", "values": [360,420,480,540,600,660,720,780,840,900], "labelExpr": "datum.value == 360 ? ['06:00','13.08.2015'] : (datum.value % 120 == 0 ? (datum.value < 600 ? '0' : '') + (datum.value / 60) + ':00' : '')", "title": "UTC", "tickSize": 12, "labelPadding": 13, "labelLineHeight": 42, "titleX": 522, "titleY": 85, "titleBaseline": "alphabetic", "titleAlign": "center"}},
   "y": {"field": "p", "type": "quantitative", "scale": {"domain": [102.7, 1008.8], "reverse": true, "nice": false, "zero": false},
     "axis": {"orient": "right", "values": [200,300,400,500,600,700,800,900,1000], "format": "d", "labelExpr": "datum.value % 200 == 0 ? datum.label : ''", "tickSize": {"condition": {"test": "datum.value % 200 == 0", "value": 13}, "value": 7}, "labelPadding": 8, "title": "p [hPa]", "titleAngle": 90, "titleX": 98, "titleY": 236.5, "titleBaseline": "alphabetic", "titleAlign": "center"}},
   "color": {"datum": "pressure", "type": "nominal",
     "scale": {"domain": ["CO_EMAC", "CH4_EMAC", "CH4", "CO", "AMA", "pressure"], "range": ["#0a9a0a", "#0000ff", "#009a00", "#0000ff", "#ffbd45", "#808080"]},
     "legend": {"orient": "none", "legendX": 726, "legendY": 197, "title": null, "direction": "vertical", "strokeColor": "black", "fillColor": "white", "padding": 6, "labelFont": "Liberation Sans", "labelFontSize": 16, "labelColor": "black", "symbolSize": 64, "symbolOffset": 8.5, "labelOffset": 23, "rowPadding": 4,
       "labelExpr": "datum.label == 'CH4' ? 'CH₄' : (datum.label == 'CH4_EMAC' ? 'CH₄_EMAC' : datum.label)",
       "encode": {
         "legend": {"update": {"strokeWidth": {"value": 1.5}}},
         "symbols": {"update": {
           "shape": {"signal": "indexof(['CO_EMAC','CH4_EMAC','pressure'], datum.value) >= 0 ? 'stroke' : 'square'"},
           "size": {"signal": "indexof(['CO_EMAC','CH4_EMAC','pressure'], datum.value) >= 0 ? 961 : 36"},
           "strokeWidth": {"signal": "indexof(['CO_EMAC','CH4_EMAC','pressure'], datum.value) >= 0 ? 4.5 : 0"},
           "stroke": {"signal": "datum.value == 'CO_EMAC' ? '#0a9a0a' : (datum.value == 'CH4_EMAC' ? '#0000ff' : '#808080')"},
           "fill": {"signal": "datum.value == 'CH4' ? '#009a00' : (datum.value == 'CO' ? '#0000ff' : (datum.value == 'AMA' ? '#ffbd45' : 'transparent'))"},
           "opacity": {"value": 1}
         }}
       }}}
  }
 },
 {"data": {"name": "co"}, "mark": {"type": "square", "size": 30, "opacity": 1},
  "encoding": {
   "x": {"field": "m", "type": "quantitative", "axis": {"orient": "top", "ticks": false, "labels": false, "title": null, "domain": true}},
   "y": {"field": "v", "type": "quantitative", "scale": {"domain": [14.4, 135.4], "range": [230, 0], "nice": false, "zero": false},
     "axis": {"orient": "left", "values": [20,30,40,50,60,70,80,90,100,110,120,130], "labelExpr": "datum.value % 50 == 0 ? datum.label : ''", "tickSize": {"condition": {"test": "datum.value % 50 == 0", "value": 14}, "value": 8}, "labelPadding": 10, "title": "CO [ppbv]", "titleAngle": -90, "titleX": -127, "titleY": 115, "titleBaseline": "alphabetic", "titleAlign": "center"}},
   "color": {"datum": "CO", "type": "nominal"}
  }},
 {"data": {"name": "coama"}, "mark": {"type": "square", "size": 30, "opacity": 1},
  "encoding": {
   "x": {"field": "m", "type": "quantitative", "axis": null},
   "y": {"field": "v", "type": "quantitative", "scale": {"domain": [14.4, 135.4], "range": [230, 0], "nice": false, "zero": false}, "axis": null},
   "color": {"datum": "AMA", "type": "nominal"}
  }},
 {"data": {"name": "coemac"}, "mark": {"type": "line", "strokeWidth": 3.2},
  "encoding": {
   "x": {"field": "m", "type": "quantitative", "axis": null},
   "y": {"field": "v", "type": "quantitative", "scale": {"domain": [14.4, 135.4], "range": [230, 0], "nice": false, "zero": false}, "axis": null},
   "color": {"datum": "CO_EMAC", "type": "nominal"}
  }},
 {"data": {"name": "ch4"}, "mark": {"type": "square", "size": 30, "opacity": 1},
  "encoding": {
   "x": {"field": "m", "type": "quantitative", "axis": null},
   "y": {"field": "v", "type": "quantitative", "scale": {"domain": [1800, 1964.3], "range": [473, 241.3], "nice": false, "zero": false},
     "axis": {"orient": "left", "values": [1800,1820,1840,1860,1880,1900,1920,1940,1960], "format": "d", "labelExpr": "datum.value % 40 == 0 ? datum.label : ''", "tickSize": {"condition": {"test": "datum.value % 40 == 0", "value": 14}, "value": 8}, "labelPadding": 10, "title": "CH₄ [ppbv]", "titleAngle": -90, "titleX": -127, "titleY": 357, "titleBaseline": "alphabetic", "titleAlign": "center"}},
   "color": {"datum": "CH4", "type": "nominal"}
  }},
 {"data": {"name": "ch4ama"}, "mark": {"type": "square", "size": 30, "opacity": 1},
  "encoding": {
   "x": {"field": "m", "type": "quantitative", "axis": null},
   "y": {"field": "v", "type": "quantitative", "scale": {"domain": [1800, 1964.3], "range": [473, 241.3], "nice": false, "zero": false}, "axis": null},
   "color": {"datum": "AMA", "type": "nominal"}
  }},
 {"data": {"name": "ch4emac"}, "mark": {"type": "line", "strokeWidth": 3.2},
  "encoding": {
   "x": {"field": "m", "type": "quantitative", "axis": null},
   "y": {"field": "v", "type": "quantitative", "scale": {"domain": [1800, 1964.3], "range": [473, 241.3], "nice": false, "zero": false}, "axis": null},
   "color": {"datum": "CH4_EMAC", "type": "nominal"}
  }}
]
}
